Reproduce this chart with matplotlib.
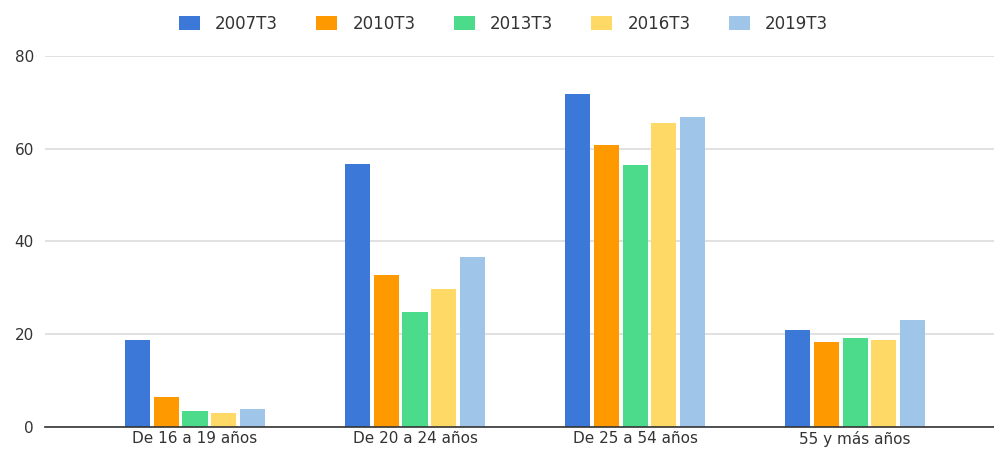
import numpy as np
import matplotlib.pyplot as plt

plt.rcParams['font.family'] = ['DejaVu Sans']

# data
categories = ['De 16 a 19 años', 'De 20 a 24 años', 'De 25 a 54 años', '55 y más años']
series = ['2007T3', '2010T3', '2013T3', '2016T3', '2019T3']
v2007 = [18.6, 56.7, 71.8, 20.9]
v2010 = [6.3, 32.7, 60.9, 18.3]
v2013 = [3.3, 24.8, 56.4, 19.1]
v2016 = [2.9, 29.8, 65.6, 18.6]
v2019 = [3.75, 36.6, 66.8, 23.0]
values = [v2007, v2010, v2013, v2016, v2019]
colors = ['#3c78d8', '#ff9900', '#4cdb8a', '#ffd966', '#9fc5e8']

fig = plt.figure(figsize=(9.95, 4.49), dpi=100)
ax = fig.add_axes([0.0452, 0.05, 0.9548, 0.825])

x = np.arange(len(categories))
pitch = 0.13
width = 0.114
for i, (name, vals) in enumerate(zip(series, values)):
    ax.bar(x + (i - 2) * pitch, vals, width, color=colors[i], label=name, zorder=3)

ax.set_xlim(-0.682, 3.636)
ax.set_ylim(0, 80)
ax.set_yticks([0, 20, 40, 60, 80])
ax.set_xticks(x)
ax.set_xticklabels(categories)
ax.tick_params(axis='both', length=0, labelsize=11, colors='#333333')
ax.tick_params(axis='y', pad=8)
ax.tick_params(axis='x', pad=3)
ax.grid(axis='y', color='#dcdcdc', linewidth=1.2, zorder=0)
for s in ['top', 'right', 'left']:
    ax.spines[s].set_visible(False)
ax.spines['bottom'].set_color('#333333')
ax.spines['bottom'].set_linewidth(1.2)
ax.spines['bottom'].set_zorder(4)

leg = fig.legend(loc='center', bbox_to_anchor=(0.506, 0.947), ncol=5, frameon=False,
                 fontsize=12, handlelength=1.26, handleheight=0.84, columnspacing=2.3,
                 handletextpad=0.9)
for t in leg.get_texts():
    t.set_color('#333333')

fig.savefig('out.png', dpi=100)
